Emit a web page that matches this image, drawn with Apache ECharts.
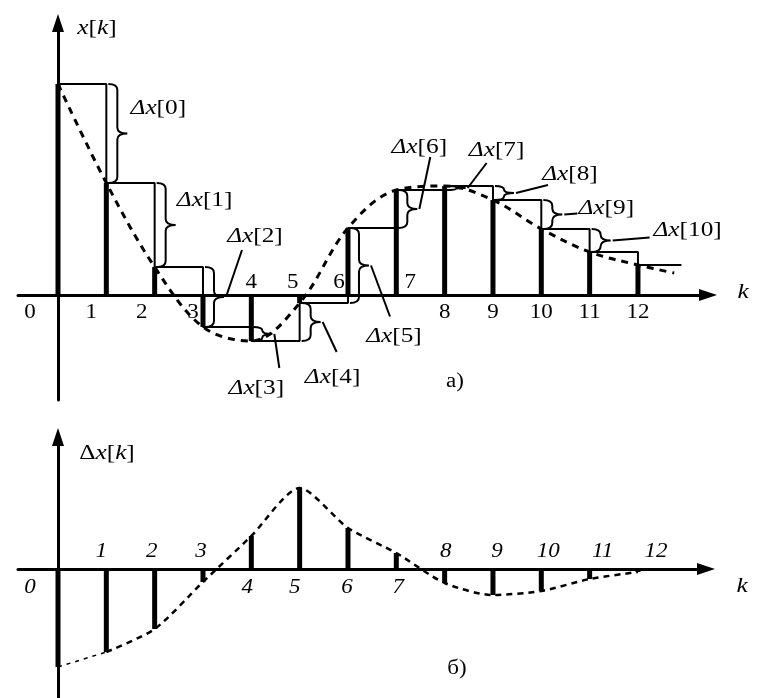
<!DOCTYPE html>
<html><head><meta charset="utf-8">
<script src="https://cdn.jsdelivr.net/npm/echarts@6/dist/echarts.min.js"></script>
<style>html,body{margin:0;padding:0;background:#fff}#c{width:763px;height:698px}</style>
</head><body><div id="c"></div>
<script>
// ---- data ----
const ks = [0,1,2,3,4,5,6,7,8,9,10,11,12];
const xValues = [10.55,5.6,1.4,-1.6,-2.3,-0.4,3.35,5.25,5.45,4.75,3.3,2.15,1.5];
const curveTail = [[12.75, 1.1]];
const dxValues = [-4.9,-4.15,-3.0,-0.65,1.65,4.05,2.05,0.8,-0.7,-1.3,-1.1,-0.5,-0.15];
const tickLabelsTop = ['0','1','2','3','4','5','6','7','8','9','10','11','12'];
const tickLabelsBottom = ['0','1','2','3','4','5','6','7','8','9','10','11','12'];
const deltaIdx = [0,1,2,3,4,5,6,7,8,9,10];

// ---- layout (pixels) ----
const FONT = '"Liberation Serif","DejaVu Serif",serif';
const SX = 1.15;             // horizontal stretch of the lettering
const PXU = 48.33;           // px per k step
const xMin = -40 / PXU;
// tick label placement: [dx, side] side 1 below, -1 above
const topTickLayout = [[-28,1],[-15,1],[-13,1],[-10,1],[0,-1],[-7,-1],[-9,-1],[14,-1],[0,1],[0,1],[0,1],[0,1],[0,1]];
const botTickLayout = [[-28,1],[-5,-1],[-3,-1],[-2,-1],[-4,1],[-5,1],[-1,1],[2,1],[1,-1],[4,-1],[7,-1],[13,-1],[18,-1]];
// brace annotations: label offset and leader end, relative to brace tip
const braceLayout = [
  {label:[31,-25]},
  {label:[29,-25]},
  {label:[31,-61], leader:[18,-47]},
  {label:[-16,54], leader:[7,34]},
  {label:[12,55], leader:[16,30]},
  {label:[25,71], leader:[21,51]},
  {label:[2,-62], leader:[13,-52]},
  {label:[31,-38], leader:[21,-25]},
  {label:[56,-19], leader:[34,-8]},
  {label:[44,-6], leader:[15,-1]},
  {label:[77,-10], leader:[39,-3]}
];
const stairEnd = 12.9;

// ---- build series data ----
const xData = ks.map((k,i)=>[k, xValues[i]]);
const stairData = xData.concat([[stairEnd, xValues[xValues.length-1]]]);
const curveData = xData.concat(curveTail);
const dxData = ks.map((k,i)=>[k, dxValues[i]]);
const braceData = deltaIdx.map(i=>[ks[i+1], xValues[i], xValues[i+1], i]);

function bracePath(x, ya, yb){
  const y1=Math.min(ya,yb), y2=Math.max(ya,yb), ym=(y1+y2)/2;
  const x0=x+2, xs=x+11, xt=x+21;
  const r=Math.min(6,(y2-y1)/4);
  return `M${x0} ${y1} Q${xs} ${y1} ${xs} ${y1+r} L${xs} ${ym-r} Q${xs} ${ym} ${xt} ${ym} Q${xs} ${ym} ${xs} ${ym+r} L${xs} ${y2-r} Q${xs} ${y2} ${x0} ${y2}`;
}

const axisLineStyle = {show:true, onZero:true, symbol:['none','triangle'], symbolSize:[12,18], lineStyle:{color:'#000', width:3}};
const hiddenBits = {axisTick:{show:false}, axisLabel:{show:false}, splitLine:{show:false}};

function txt(x, y, text, style){
  return Object.assign({type:'text', x:x, y:y, scaleX:SX,
    style:Object.assign({text:text, x:0, y:0, align:'center', verticalAlign:'middle', fill:'#000'}, style)});
}

function tickRenderer(labels, layout, aboveGap, belowGap, italic){
  return function(params, api){
    const i = params.dataIndex;
    const p = api.coord([api.value(0), 0]);
    const L = layout[i];
    return txt(p[0]+L[0], p[1]+(L[1]>0?belowGap:-aboveGap), labels[i],
      {font:(italic?'italic ':'')+'20px '+FONT});
  };
}

const richXK = {i:{font:'italic 22px '+FONT, fill:'#000'}, n:{font:'22px '+FONT, fill:'#000'}};

const option = {
  animation:false,
  backgroundColor:'#fff',
  grid:[
    {left:18, right:55, top:23, bottom:298},
    {left:18, right:57, top:437, bottom:0}
  ],
  xAxis:[
    Object.assign({type:'value', gridIndex:0, min:xMin, max:(708-58)/PXU, axisLine:axisLineStyle}, hiddenBits),
    Object.assign({type:'value', gridIndex:1, min:xMin, max:(706-58)/PXU, axisLine:axisLineStyle}, hiddenBits)
  ],
  yAxis:[
    Object.assign({type:'value', gridIndex:0, min:-5.25, max:13.6, axisLine:axisLineStyle}, hiddenBits),
    Object.assign({type:'value', gridIndex:1, min:-6.45, max:6.6, axisLine:axisLineStyle}, hiddenBits)
  ],
  graphic:[
    txt(97, 28, '{i|x}{n|[}{i|k}{n|]}', {rich:richXK}),
    txt(743, 292, 'k', {font:'italic 22px '+FONT}),
    txt(455, 382, 'а)', {font:'20px '+FONT}),
    txt(107, 453, '{n|Δ}{i|x}{n|[}{i|k}{n|]}', {rich:richXK}),
    txt(742, 586, 'k', {font:'italic 22px '+FONT}),
    txt(457, 669, 'б)', {font:'20px '+FONT})
  ],
  series:[
    {type:'line', xAxisIndex:0, yAxisIndex:0, data:stairData, step:'end', showSymbol:false,
     lineStyle:{color:'#000', width:2}, z:2},
    {type:'bar', xAxisIndex:0, yAxisIndex:0, data:xData, barWidth:5, itemStyle:{color:'#000'}, z:3},
    {type:'line', xAxisIndex:0, yAxisIndex:0, data:curveData, smooth:0.35, showSymbol:false,
     lineStyle:{color:'#000', width:3, type:[7,6]}, z:4},
    {type:'custom', xAxisIndex:0, yAxisIndex:0, data:braceData, z:5,
     renderItem:function(params, api){
       const i = params.dataIndex;
       const pa = api.coord([api.value(0), api.value(1)]);
       const pb = api.coord([api.value(0), api.value(2)]);
       const x = pa[0];
       const ym = (pa[1]+pb[1])/2;
       const tip = [x+21, ym];
       const L = braceLayout[i];
       const children = [{type:'path', shape:{pathData:bracePath(x, pa[1], pb[1])}, style:{stroke:'#000', lineWidth:2, fill:'none'}}];
       if (L.leader) children.push({type:'line', shape:{x1:tip[0]+2, y1:tip[1], x2:tip[0]+L.leader[0], y2:tip[1]+L.leader[1]}, style:{stroke:'#000', lineWidth:2}});
       children.push(txt(tip[0]+L.label[0], tip[1]+L.label[1], '{a|Δx}{b|['+api.value(3)+']}',
         {rich:{a:{font:'italic 22px '+FONT, fill:'#000'}, b:{font:'22px '+FONT, fill:'#000'}}}));
       return {type:'group', children:children};
     }},
    {type:'custom', xAxisIndex:0, yAxisIndex:0, data:ks.map(k=>[k]), z:6,
     renderItem:tickRenderer(tickLabelsTop, topTickLayout, 12, 18, false)},
    // bottom panel
    {type:'bar', xAxisIndex:1, yAxisIndex:1, data:dxData, barWidth:5, itemStyle:{color:'#000'}, z:3},
    {type:'line', xAxisIndex:1, yAxisIndex:1, data:dxData.slice(0,2), showSymbol:false,
     lineStyle:{color:'#000', width:1.5, type:[4,5]}, z:4},
    {type:'line', xAxisIndex:1, yAxisIndex:1, data:dxData.slice(1), smooth:0.25, showSymbol:false,
     lineStyle:{color:'#000', width:2.5, type:[6,5]}, z:4},
    {type:'custom', xAxisIndex:1, yAxisIndex:1, data:ks.map(k=>[k]), z:6,
     renderItem:tickRenderer(tickLabelsBottom, botTickLayout, 17, 19, true)}
  ]
};
const chart = echarts.init(document.getElementById('c'), null, {renderer:'canvas'});
chart.setOption(option);
</script></body></html>
